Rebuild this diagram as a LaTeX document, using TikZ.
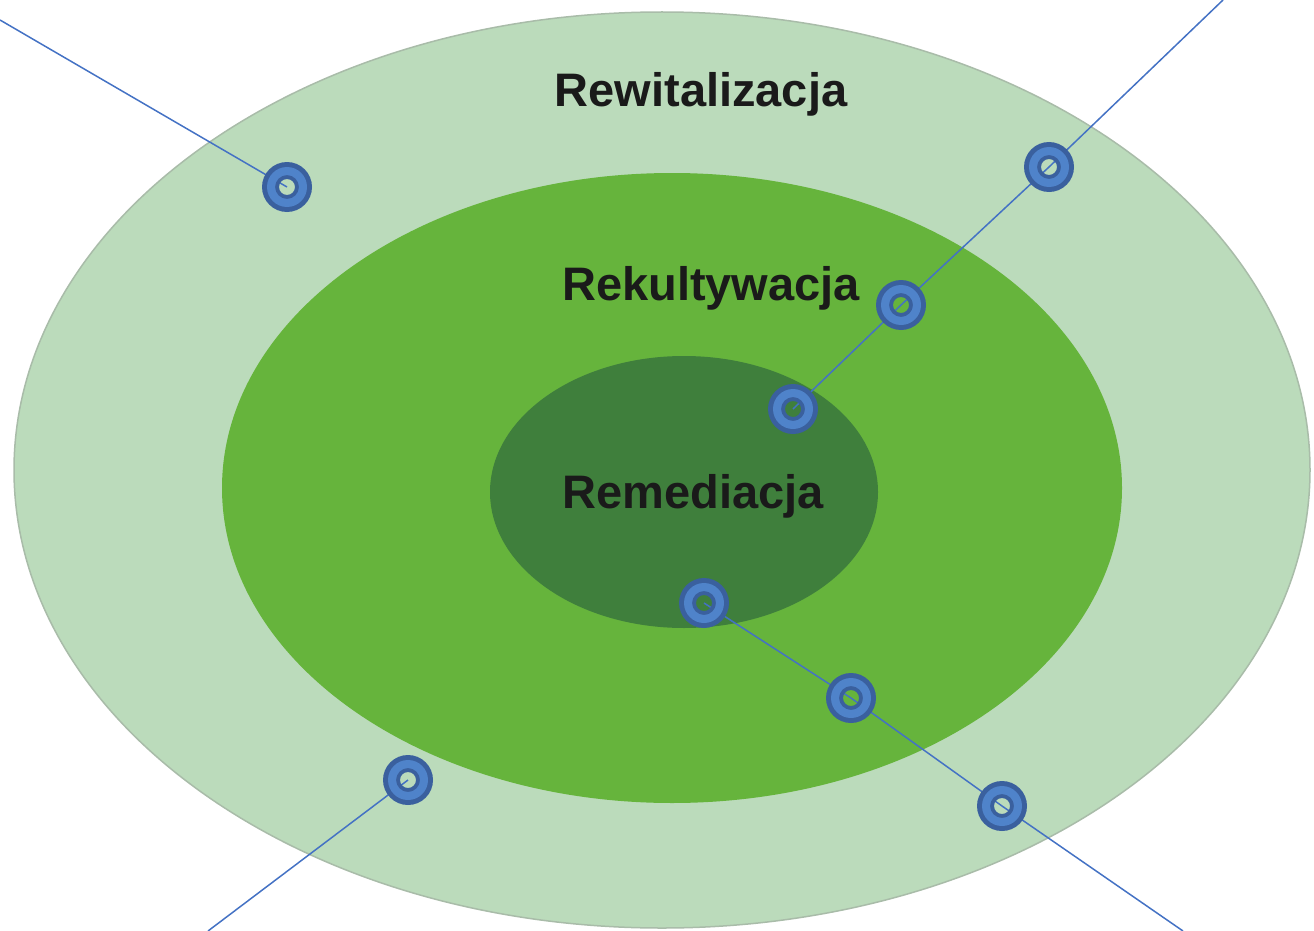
\documentclass[tikz,border=0pt]{standalone}
\usepackage{fontspec}
\setmainfont{Liberation Sans}
\definecolor{outerg}{HTML}{BBDBBB}
\definecolor{outerb}{HTML}{A9BCA9}
\definecolor{midg}{HTML}{66B43C}
\definecolor{innerg}{HTML}{3F7F3C}
\definecolor{txt}{HTML}{1A1A1A}
\definecolor{ringd}{HTML}{3A609E}
\definecolor{ringl}{HTML}{4F83CA}
\definecolor{linec}{HTML}{4472C4}
\tikzset{
  lbl/.style={font=\bfseries\fontsize{47}{50}\selectfont, text=txt, anchor=base, inner sep=0},
  conn/.style={draw=linec, line width=1.5pt},
}
\begin{document}
\begin{tikzpicture}[x=1pt,y=-1pt]
\useasboundingbox (0,0) rectangle (1314,931);
% ellipses
\fill[outerg, draw=outerb, line width=1.5pt] (662,470) ellipse [x radius=648, y radius=458];
\fill[midg] (672,488) ellipse [x radius=450, y radius=315];
\fill[innerg] (684,492) ellipse [x radius=194, y radius=136];
% labels
\node[lbl] (t1) at (701,107) {Rewitalizacja};
\node[lbl] (t2) at (711,300) {Rekultywacja};
\node[lbl] (t3) at (693,508) {Remediacja};
% marker positions
\coordinate (m1) at (287,187);
\coordinate (m2) at (1049,167);
\coordinate (m3) at (901,305);
\coordinate (m4) at (793,409);
\coordinate (m5) at (704,603);
\coordinate (m6) at (851,698);
\coordinate (m7) at (1002,806);
\coordinate (m8) at (408,780);
\coordinate (e1) at (0,20);
\coordinate (e2) at (1223,0);
\coordinate (e3) at (1183,931);
\coordinate (e4) at (208,931);
% connectors
\draw[conn] (e1) -- (m1);
\draw[conn] (e2) -- (m2) -- (m3) -- (m4);
\draw[conn] (m5) -- (m6) -- (m7) -- (e3);
\draw[conn] (m8) -- (e4);
% markers
\foreach \m in {m1,m2,m3,m4,m5,m6,m7,m8}{
  \fill[ringd, even odd rule] (\m) circle[radius=25] (\m) circle[radius=8];
  \fill[ringl, even odd rule] (\m) circle[radius=20] (\m) circle[radius=12];
}
\end{tikzpicture}
\end{document}
